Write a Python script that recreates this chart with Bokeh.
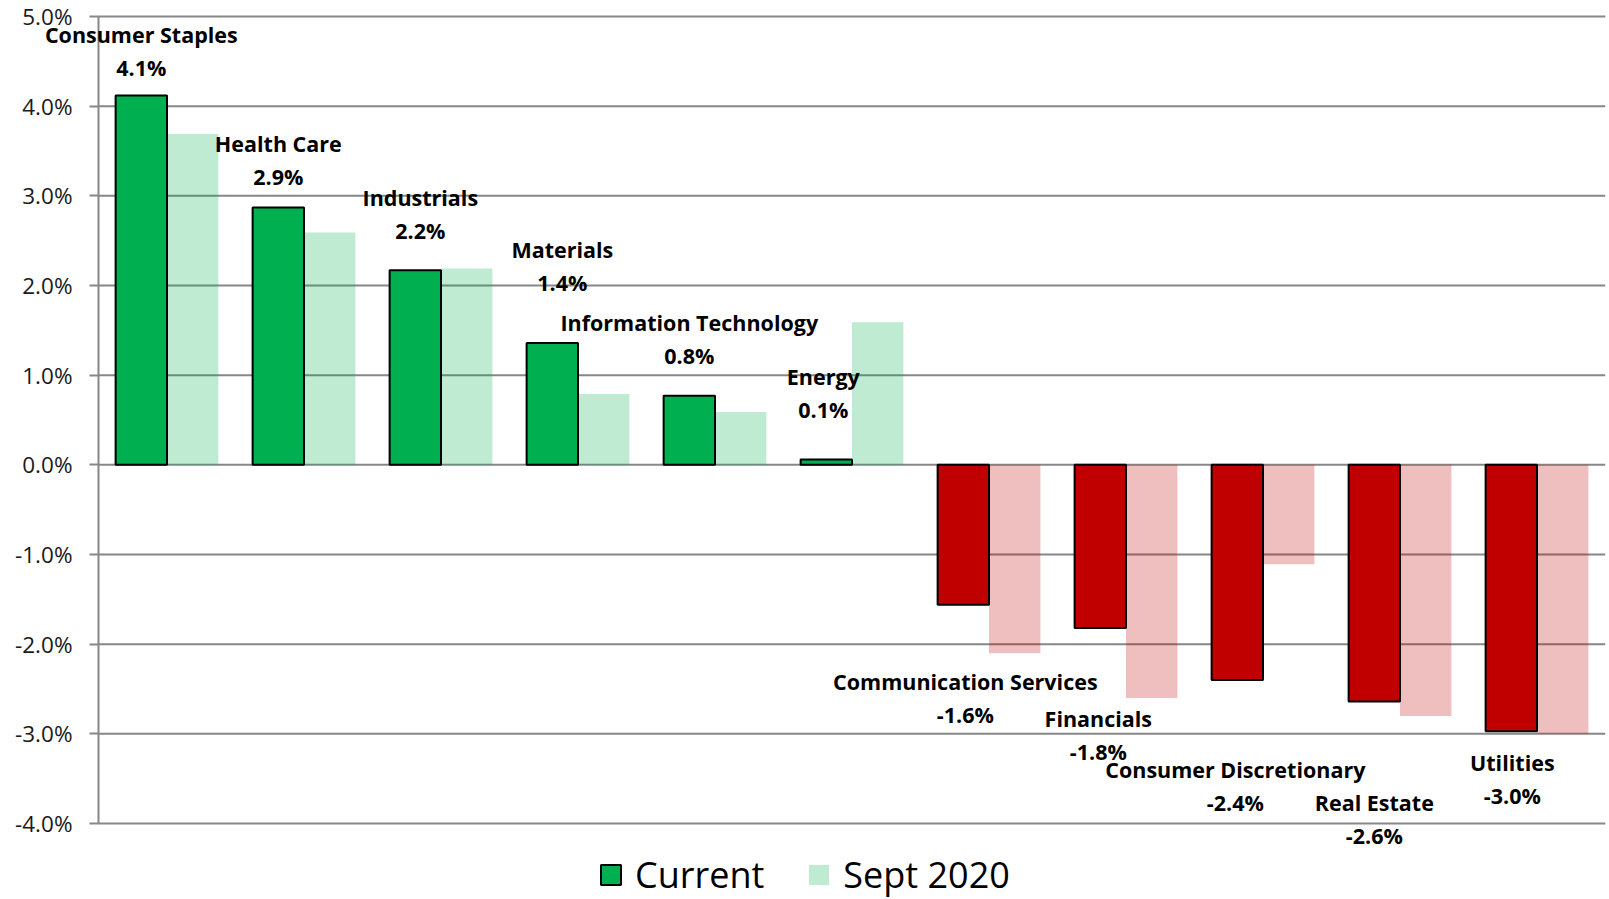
from bokeh.plotting import figure
from bokeh.models import (ColumnDataSource, Range1d, LabelSet, Legend,
                          LegendItem, PrintfTickFormatter, FixedTicker)
from bokeh.core.properties import value
from bokeh.embed import file_html
from bokeh.resources import INLINE

# ---- data ----
sectors = ["Consumer Staples", "Health Care", "Industrials", "Materials",
           "Information Technology", "Energy", "Communication Services",
           "Financials", "Consumer Discretionary", "Real Estate", "Utilities"]
current = [4.12, 2.87, 2.17, 1.36, 0.77, 0.06, -1.56, -1.82, -2.40, -2.64, -2.97]
sept_2020 = [3.69, 2.59, 2.19, 0.79, 0.59, 1.59, -2.10, -2.60, -1.11, -2.80, -3.00]
y_ticks = [-4, -3, -2, -1, 0, 1, 2, 3, 4, 5]
series_names = ["Current", "Sept 2020"]

# ---- layout / style ----
W, H = 1609, 899
AX_X, RIGHT_X = 98, 1605          # screen px of category axis start / end
TOP_Y, BOT_Y = 16, 823            # screen px of y max / y min
POS_COLOR = "#00B050"
NEG_COLOR = "#C00000"
GRID = "#878787"
FONT = "Open Sans"
OFFSET, BAR_W = 0.1875, 0.375
# label placement as in the original (manually placed labels)
label_gap_px = [26, 29, 38, 58, 38, 48, 112, 125, 124, 136, 66]
label_dx_px = [0, 0, 5, 10, 0, -3, 2, -2, -2, 0, 1]
LABEL_SHIFT = 2
NAME_GAP = 33

n = len(sectors)
ymin, ymax = min(y_ticks), max(y_ticks)
px_x = (RIGHT_X - AX_X) / n
px_y = (BOT_Y - TOP_Y) / (ymax - ymin)
x_range = Range1d(-AX_X / px_x, (RIGHT_X - AX_X) / px_x)
y_range = Range1d(ymin - (H - BOT_Y) / px_y, ymax + TOP_Y / px_y)

idx = list(range(n))
cur_x = [i + 0.5 - OFFSET for i in idx]
sept_x = [i + 0.5 + OFFSET for i in idx]
cur_colors = [POS_COLOR if v >= 0 else NEG_COLOR for v in current]
sept_colors = [POS_COLOR if v >= 0 else NEG_COLOR for v in sept_2020]
val_text = ["%.1f%%" % v for v in current]
val_off = [(g if v >= 0 else -g) + LABEL_SHIFT for v, g in zip(current, label_gap_px)]
name_off = [o + NAME_GAP for o in val_off]

src = ColumnDataSource(dict(sector=sectors, cur_x=cur_x, sept_x=sept_x,
                            current=current, sept=sept_2020,
                            cur_color=cur_colors, sept_color=sept_colors,
                            val_text=val_text, val_off=val_off, name_off=name_off,
                            dx=label_dx_px))

p = figure(width=W, height=H, x_range=x_range, y_range=y_range,
           output_backend="svg", toolbar_location=None, x_axis_location=None,
           min_border_left=0, min_border_right=W - RIGHT_X,
           min_border_top=0, min_border_bottom=0)
p.outline_line_color = None
p.background_fill_color = "white"
p.border_fill_color = "white"
p.xgrid.visible = False
p.ygrid.visible = False

# horizontal gridlines spanning the category area only
p.segment(x0=[0] * len(y_ticks), x1=[n] * len(y_ticks), y0=y_ticks, y1=y_ticks,
          line_color=GRID, line_width=2)

ax = p.yaxis[0]
ax.fixed_location = 0
ax.bounds = (ymin, ymax)
ax.ticker = FixedTicker(ticks=y_ticks)
ax.formatter = PrintfTickFormatter(format="%.1f%%")
ax.axis_line_color = GRID
ax.axis_line_width = 2
ax.major_tick_line_color = GRID
ax.major_tick_line_width = 2
ax.major_tick_out = 9
ax.major_tick_in = 0
ax.minor_tick_line_color = None
ax.major_label_standoff = 17
ax.major_label_text_font = FONT
ax.major_label_text_font_size = "22.5px"
ax.major_label_text_color = "#1a1a1a"

r_sept = p.vbar(x="sept_x", top="sept", bottom=0, width=BAR_W, source=src,
                fill_color="sept_color", fill_alpha=0.25, line_color=None)
r_cur = p.vbar(x="cur_x", top="current", bottom=0, width=BAR_W, source=src,
               fill_color="cur_color", line_color="black", line_width=2)

common = dict(x="cur_x", y="current", x_offset="dx", source=src,
              text_align="center", text_baseline="middle", text_font=value(FONT),
              text_font_style="bold", text_font_size="21.5px", text_color="black")
p.add_layout(LabelSet(text="val_text", y_offset="val_off", **common))
p.add_layout(LabelSet(text="sector", y_offset="name_off", **common))

legend = Legend(items=[LegendItem(label=series_names[0], renderers=[r_cur], index=0),
                       LegendItem(label=series_names[1], renderers=[r_sept], index=0)],
                orientation="horizontal", location=(598, 0), padding=0, margin=0,
                spacing=42, glyph_width=25, glyph_height=25, label_standoff=12,
                label_text_font=FONT, label_text_font_size="36px",
                label_text_color="black", border_line_color=None,
                background_fill_alpha=0)
p.add_layout(legend, "center")

open("out.html", "w").write(file_html(p, INLINE))
